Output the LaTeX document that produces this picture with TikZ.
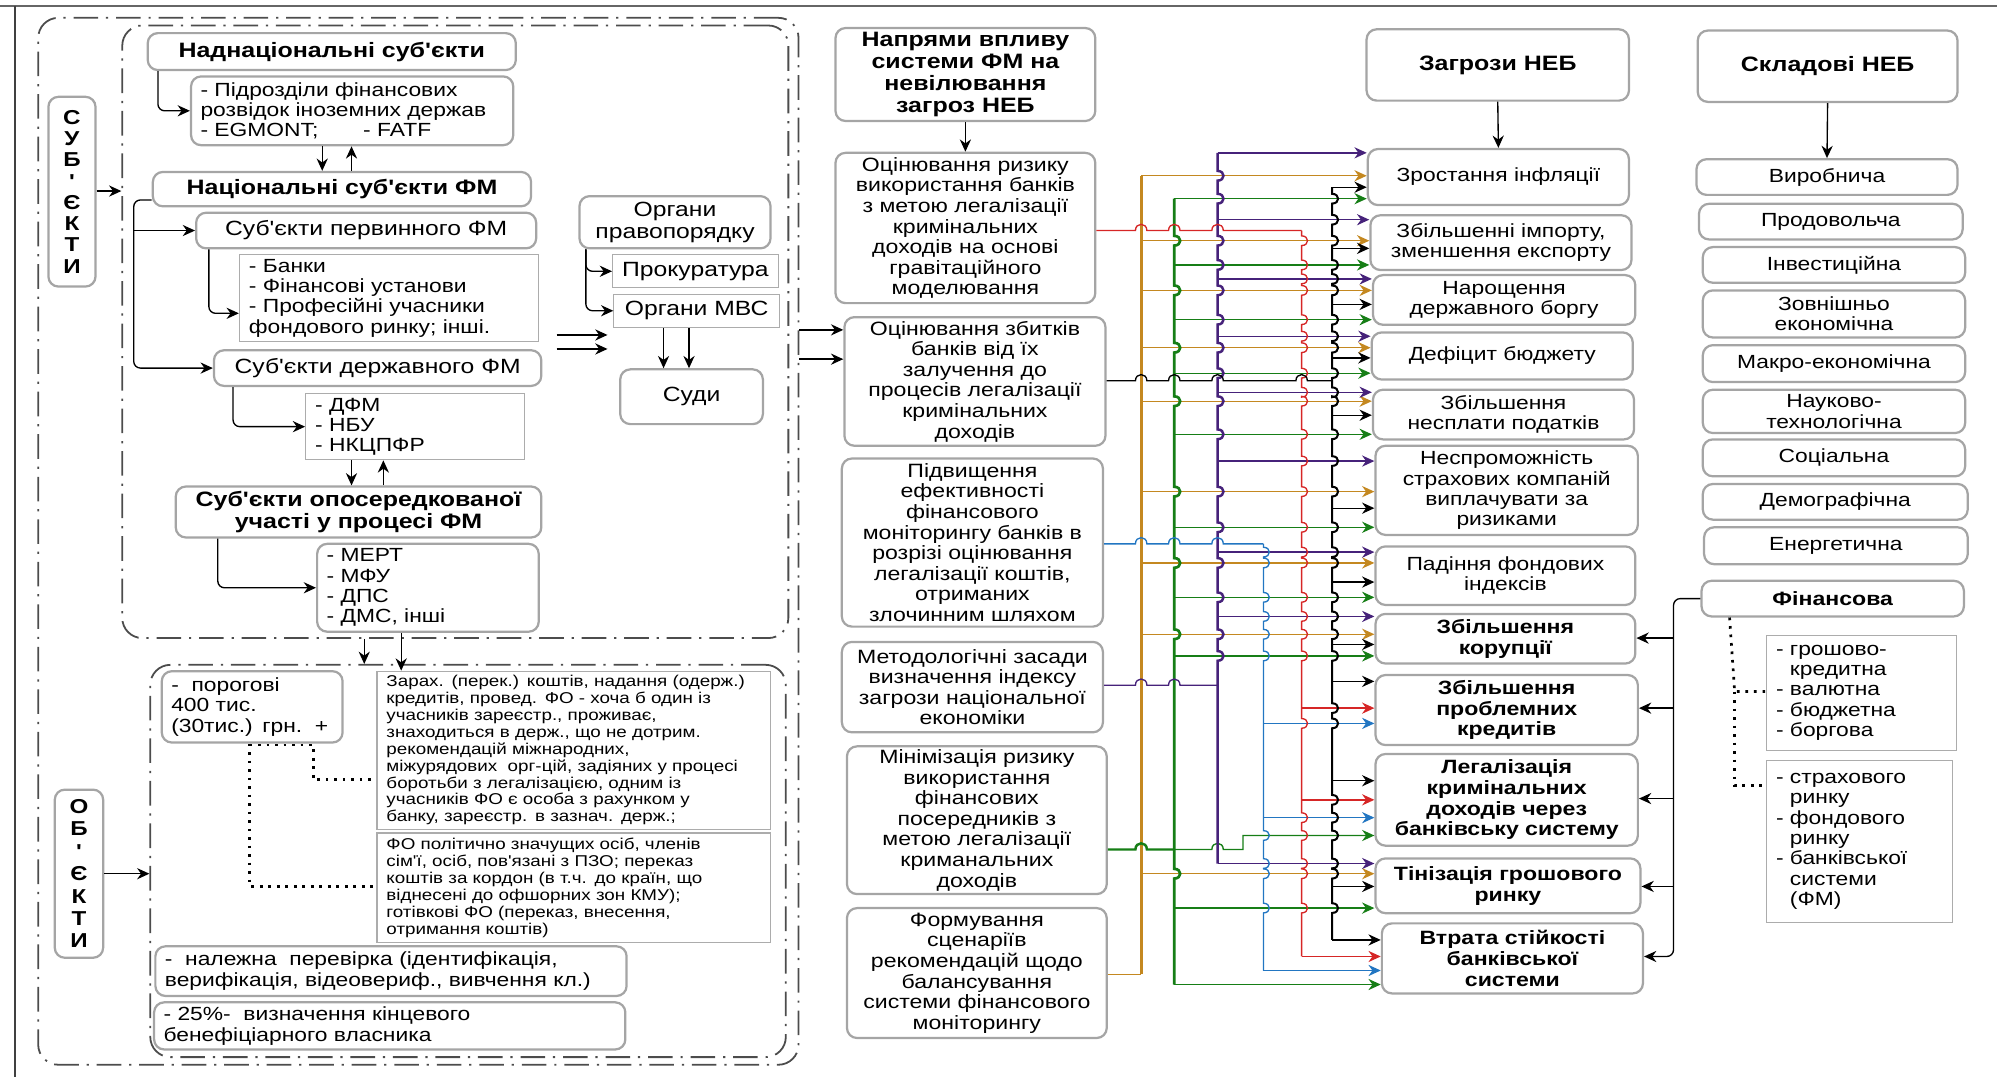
\documentclass[tikz,border=0pt]{standalone}
\usepackage{fontspec}
\newfontfamily\uf{Liberation Sans}[FakeStretch=1.2]
\usetikzlibrary{arrows.meta}

\definecolor{cGold}{RGB}{196,136,32}
\definecolor{cGrn}{RGB}{22,126,22}
\definecolor{cPur}{RGB}{70,34,122}
\definecolor{cBlu}{RGB}{34,118,194}
\definecolor{cRed}{RGB}{214,38,38}
\definecolor{bord}{RGB}{165,165,165}

\newcommand\szA{\fontsize{8.5}{9.1}\selectfont}
\newcommand\szL{\fontsize{9.2}{10}\selectfont}
\newcommand\szH{\fontsize{9.3}{9.8}\selectfont}
\newcommand\szM{\fontsize{8.6}{9.2}\selectfont}
\newcommand\szT{\fontsize{8.6}{9.2}\selectfont}
\newcommand\szS{\fontsize{7}{7.55}\selectfont}

% box given by its corners (x1,y1)-(x2,y2), centred text
\newcommand\nbx[7]{\node[#6, minimum width={(#4-#2)*0.02cm}, minimum height={(#5-#3)*0.02cm}] (#1) at ({(#2+#4)/2},{(#3+#5)/2}) {#7};}
% box given by its corners, left aligned text
\newcommand\nlbx[7]{%
  \pgfmathsetmacro\tw{(#4-#2)*0.02*28.45274-8.5}%
  \node[#6, align=left, inner xsep=4pt, text width=\tw pt, minimum width={(#4-#2)*0.02cm}, minimum height={(#5-#3)*0.02cm}] (#1) at ({(#2+#4)/2},{(#3+#5)/2}) {#7};}
% vertical bus with line jumps at the listed heights
\newcommand\vbus[5]{\draw[#1] (#2,#3) \foreach \h in {#5}{ -- (#2,\h-3.8) .. controls +(6.2,0) and +(6.2,0) .. (#2,\h+3.8)} -- (#2,#4);}

\begin{document}
\begin{tikzpicture}[x=0.02cm, y=-0.02cm,
  rb/.style={draw=bord, line width=1pt, rounded corners=4.5pt, fill=white, align=center, inner sep=1pt, font=\uf\szA},
  sq/.style={draw=gray!65, line width=0.5pt, fill=white, align=center, inner sep=1pt, font=\uf\szA},
  hb/.style={font=\uf\bfseries\szH},
  fl/.style={font=\uf\szL},
  fm/.style={font=\uf\szM},
  fs/.style={font=\uf\szS},
  tb/.style={font=\uf\bfseries\szT},
  fr/.style={draw=black!70, line width=0.8pt, rounded corners=9pt, dash pattern=on 11pt off 3.5pt on 1pt off 3.5pt},
  arr/.style={-{Stealth[length=5.5pt,width=5pt]}, line width=0.6pt},
  ln/.style={line width=0.6pt},
  dots/.style={line width=1.2pt, dash pattern=on 1.2pt off 2.6pt},
]
\useasboundingbox (0,0) rectangle (1568,846);

% page rules
\draw[line width=0.9pt, black!60] (0,4.5) -- (1568,4.5);
\draw[line width=1pt, black!75] (11.5,4.5) -- (11.5,846);

% dash-dot frames
\nbx{ofr}{30}{14}{627}{836}{fr}{}
\nbx{ufr}{96}{20}{619}{501}{fr}{}
\nbx{lfr}{118}{522}{617}{830}{fr}{}

% vertical labels
\nbx{subj}{38}{76}{75}{225}{rb, font=\uf\bfseries\fontsize{9}{9.5}\selectfont}{С\\У\\Б\\'\\Є\\К\\Т\\И}
\nbx{obj}{43}{620}{81}{752}{rb, font=\uf\bfseries\fontsize{9}{10}\selectfont}{О\\Б\\'\\Є\\К\\Т\\И}

% subjects
\nbx{nad}{116}{26}{405}{55}{rb,hb}{Наднаціональні суб'єкти}
\nlbx{pidr}{150}{60}{403}{114}{rb}{- Підрозділи фінансових\\розвідок іноземних держав\\- EGMONT;\hspace{20pt}- FATF}
\nbx{nat}{120}{135}{417}{162}{rb,hb}{Національні суб'єкти ФМ}
\nbx{perv}{154}{167}{421}{195}{rb,fl}{Суб'єкти первинного ФМ}
\nlbx{banks}{188}{200}{423}{268}{sq}{- Банки\\- Фінансові установи\\- Професійні учасники\\фондового ринку; інші.}
\nbx{derzh}{168}{275}{425}{303}{rb,fl}{Суб'єкти державного ФМ}
\nlbx{dfm}{240}{309}{412}{361}{sq}{- ДФМ\\- НБУ\\- НКЦПФР}
\nbx{opos}{138}{382}{425}{422}{rb,hb}{Суб'єкти опосередкованої\\участі у процесі ФМ}
\nlbx{mert}{249}{427}{423}{496}{rb}{- МЕРТ\\- МФУ\\- ДПС\\- ДМС, інші}
\nbx{organy}{455}{154}{605}{195}{rb,fl}{Органи\\правопорядку}
\nbx{prok}{481}{200}{611}{226}{sq,fl}{Прокуратура}
\nbx{mvs}{482}{231}{612}{257}{sq,fl}{Органи МВС}
\nbx{sudy}{487}{290}{599}{333}{rb,fl}{Суди}

% objects
\nlbx{porog}{127}{527}{269}{583}{rb}{-\ \ порогові\\400 тис.\\(30тис.) грн.\ \ +}
\nlbx{zarah}{296}{527}{605}{651}{sq,fs}{Зарах. (перек.) коштів, надання (одерж.)\\кредитів, провед. ФО - хоча б один із\\учасників зареєстр., проживає,\\знаходиться в держ., що не дотрим.\\рекомендацій міжнародних,\\міжурядових\ \ орг-цій, задіяних у процесі\\боротьби з легалізацією, одним із\\учасників ФО є особа з рахунком у\\банку, зареєстр. в зазнач. держ.;}
\nlbx{fo}{296}{654}{605}{740}{sq,fs}{ФО політично значущих осіб, членів\\сім'ї, осіб, пов'язані з ПЗО; переказ\\коштів за кордон (в т.ч. до країн, що\\віднесені до офшорних зон КМУ);\\готівкові ФО (переказ, внесення,\\отримання коштів)}
\nlbx{nal}{122}{743}{492}{782}{rb}{-\ \ належна\ \ перевірка (ідентифікація,\\верифікація, відеовериф., вивчення кл.)}
\nlbx{pct}{121}{787}{491}{824}{rb}{- 25\%-\ \ визначення кінцевого\\бенефіціарного власника}

% directions of influence
\nbx{napr}{656}{22}{860}{95}{rb,hb}{Напрями впливу\\системи ФМ на\\невілювання\\загроз НЕБ}
\nbx{m1}{656}{120}{860}{238}{rb,fm}{Оцінювання ризику\\використання банків\\з метою легалізації\\кримінальних\\доходів на основі\\гравітаційного\\моделювання}
\nbx{m2}{663}{249}{868}{350}{rb,fm}{Оцінювання збитків\\банків від їх\\залучення до\\процесів легалізації\\кримінальних\\доходів}
\nbx{m3}{661}{360}{866}{492}{rb,fm}{Підвищення\\ефективності\\фінансового\\моніторингу банків в\\розрізі оцінювання\\легалізації коштів,\\отриманих\\злочинним шляхом}
\nbx{m4}{661}{504}{866}{575}{rb,fm}{Методологічні засади\\визначення індексу\\загрози національної\\економіки}
\nbx{m5}{665}{586}{869}{702}{rb,fm}{Мінімізація ризику\\використання\\фінансових\\посередників з\\метою легалізації\\криманальних\\доходів}
\nbx{m6}{665}{713}{869}{815}{rb,fm}{Формування\\сценаріїв\\рекомендацій щодо\\балансування\\системи фінансового\\моніторингу}

% threats
\nbx{zag}{1073}{23}{1279}{79}{rb,hb}{Загрози НЕБ}
\nbx{t1}{1074}{117}{1279}{161}{rb}{Зростання інфляції}
\nbx{t2}{1076}{169}{1281}{212}{rb}{Збільшенні імпорту,\\зменшення експорту}
\nbx{t3}{1078}{216}{1284}{255}{rb}{Нарощення\\державного боргу}
\nbx{t4}{1077}{261}{1282}{298}{rb}{Дефіцит бюджету}
\nbx{t5}{1078}{306}{1283}{345}{rb}{Збільшення\\несплати податків}
\nbx{t6}{1080}{350}{1286}{420}{rb}{Неспроможність\\страхових компаній\\виплачувати за\\ризиками}
\nbx{t7}{1080}{429}{1284}{475}{rb}{Падіння фондових\\індексів}
\nbx{t8}{1080}{482}{1284}{521}{rb,tb}{Збільшення\\корупції}
\nbx{t9}{1080}{530}{1286}{585}{rb,tb}{Збільшення\\проблемних\\кредитів}
\nbx{t10}{1080}{592}{1286}{664}{rb,tb}{Легалізація\\кримінальних\\доходів через\\банківську систему}
\nbx{t11}{1080}{674}{1288}{717}{rb,tb}{Тінізація грошового\\ринку}
\nbx{t12}{1085}{725}{1290}{780}{rb,tb}{Втрата стійкості\\банківської\\системи}

% components
\nbx{skl}{1333}{24}{1537}{80}{rb,hb}{Складові НЕБ}
\nbx{c1}{1332}{125}{1537}{153}{rb}{Виробнича}
\nbx{c2}{1334}{160}{1541}{188}{rb}{Продовольча}
\nbx{c3}{1337}{194}{1543}{222}{rb}{Інвестиційна}
\nbx{c4}{1337}{228}{1543}{265}{rb}{Зовнішньо\\економічна}
\nbx{c5}{1337}{271}{1543}{300}{rb}{Макро-економічна}
\nbx{c6}{1337}{306}{1543}{340}{rb}{Науково-\\технологічна}
\nbx{c7}{1337}{345}{1543}{374}{rb}{Соціальна}
\nbx{c8}{1337}{380}{1545}{408}{rb}{Демографічна}
\nbx{c9}{1338}{414}{1545}{443}{rb}{Енергетична}
\nbx{fin}{1336}{456}{1542}{484}{rb,tb}{Фінансова}
\nlbx{l1}{1387}{499}{1536}{589}{sq}{- грошово-\\\phantom{- }кредитна\\- валютна\\- бюджетна\\- боргова}
\nlbx{l2}{1387}{597}{1533}{724}{sq}{- страхового\\\phantom{- }ринку\\- фондового\\\phantom{- }ринку\\- банківської\\\phantom{- }системи\\\phantom{- }(ФМ)}

% ---- connectors, left part
\draw[arr] (subj.east |- 0,150) -- (ufr.west |- 0,150);
\draw[arr] (obj.east |- 0,686) -- (lfr.west |- 0,686);
\draw[arr, rounded corners=3pt] (nad.south -| 124,0) |- (pidr.west);
\draw[arr] (pidr.south -| 253,0) -- (nat.north -| 253,0);
\draw[arr] (nat.north -| 276,0) -- (pidr.south -| 276,0);
\draw[arr, rounded corners=3pt] (nat.west |- 0,157) -- (105,157) -- (105,289) -- (derzh.west);
\draw[arr] (105,181) -- (perv.west);
\draw[arr, rounded corners=3pt] (perv.south -| 164,0) |- (banks.west |- 0,246);
\draw[arr, rounded corners=3pt] (derzh.south -| 183,0) |- (dfm.west);
\draw[arr] (dfm.south -| 276,0) -- (opos.north -| 276,0);
\draw[arr] (opos.north -| 301,0) -- (dfm.south -| 301,0);
\draw[arr, rounded corners=3pt] (opos.south -| 171,0) |- (mert.west);
\draw[arr, rounded corners=3pt] (organy.south -| 460,0) |- (prok.west);
\draw[arr, rounded corners=3pt] (organy.south -| 460,0) |- (mvs.west);
\draw[arr] (mvs.south -| 521,0) -- (sudy.north -| 521,0);
\draw[arr] (mvs.south -| 541,0) -- (sudy.north -| 541,0);
\coordinate (fa1) at (437,263); \coordinate (fb1) at (477,263);
\coordinate (fa2) at (437,274); \coordinate (fb2) at (477,274);
\draw[arr] (fa1) -- (fb1);
\draw[arr] (fa2) -- (fb2);
\draw[arr] (ofr.east |- 0,259) -- (m2.west |- 0,259);
\draw[arr] (ofr.east |- 0,282) -- (m2.west |- 0,282);
\draw[arr] (mert.south -| 315,0) -- (zarah.north -| 315,0);
\draw[arr] (ufr.south -| 286,0) -- (lfr.north -| 286,0);
\draw[dots] (porog.south -| 196,0) -- (196,696) -- (fo.west |- 0,696);
\draw[dots] (196,585) -- (246,585) -- (246,612) -- (zarah.west |- 0,612);

% ---- connectors, right part
\draw[arr] (napr.south) -- (m1.north);
\draw[arr] (zag.south) -- (t1.north);
\draw[arr] (skl.south) -- (c1.north);
\draw[arr, rounded corners=3pt] (fin.west) -| (1314,751) -- (t12.east |- 0,751);
\foreach \y/\t in {501/t8,556/t9,627/t10,696/t11}
  \draw[arr] (1314,\y) -- (\t.east |- 0,\y);
\draw[dots] (fin.south -| 1358,0) -- (1362,543) -- (l1.west |- 0,543);
\draw[dots] (1362,543) -- (1362,617) -- (l2.west |- 0,617);

% ---- influence buses
% gold: scenarios of recommendations
\draw[cGold, ln] (m6.east |- 0,765) -- (896,765);
\draw[cGold, line width=1.3pt] (896,138) -- (896,765);
\foreach \y/\t in {138/t1,189/t2,228/t3,273/t4,315/t5,386/t6,442/t7,498/t8,686/t11}
  \draw[cGold, arr] (896,\y) -- (\t.west |- 0,\y);

% green: minimisation of risk
\draw[cGrn, line width=1.1pt] (m5.east |- 0,667) -- (891.5,667) .. controls +(0,-6.5) and +(0,-6.5) .. (900.5,667) -- (922,667);
\vbus{cGrn, line width=1.2pt}{922}{156}{773}{189,228,273,315,386,442,498,686}
\foreach \y/\t in {156/t1,208/t2,251/t3,293/t4,341/t5,414/t6,469/t7,515/t8,713/t11,773/t12}
  \draw[cGrn, arr] (922,\y) -- (\t.west |- 0,\y);
\draw[cGrn, arr] (922,667) -- (951.5,667) .. controls +(0,-6.5) and +(0,-6.5) .. (960.5,667) -- (976,667) -- (976,656) -- (t10.west |- 0,656);

% purple: methodology of the threat index
\draw[cPur, ln] (m4.east |- 0,538) \foreach \c in {896,922}{ -- (\c-4.5,538) .. controls +(0,-6.5) and +(0,-6.5) .. (\c+4.5,538)} -- (956,538);
\vbus{cPur, line width=1.1pt}{956}{120}{678}{138,156,189,208,228,251,273,293,315,341,386,414,442,469,498,515}
\foreach \y/\t in {120/t1,172.5/t2,219/t3,264/t4,308/t5,362/t6,433.5/t7,484/t8,678/t11}
  \draw[cPur, arr] (956,\y) -- (\t.west |- 0,\y);

% blue: efficiency of monitoring
\draw[cBlu, ln] (m3.east |- 0,427) \foreach \c in {896,922,956}{ -- (\c-4.5,427) .. controls +(0,-6.5) and +(0,-6.5) .. (\c+4.5,427)} -- (992,427);
\vbus{cBlu, ln}{992}{427}{762}{433.5,442,469,484,498,515,656,678,686,713}
\foreach \y/\t in {568/t9,642/t10,762/t12}
  \draw[cBlu, arr] (992,\y) -- (\t.west |- 0,\y);

% red: risk assessment by gravity modelling
\draw[cRed, ln] (m1.east |- 0,181) \foreach \c in {896,922,956}{ -- (\c-4.5,181) .. controls +(0,-6.5) and +(0,-6.5) .. (\c+4.5,181)} -- (1022,181);
\vbus{cRed, ln}{1022}{181}{751}{189,208,219,228,251,264,273,293,308,315,341,362,386,414,433.5,442,469,484,498,515,568,642,656,678,686,713}
\foreach \y/\t in {556/t9,628/t10,751/t12}
  \draw[cRed, arr] (1022,\y) -- (\t.west |- 0,\y);

% black: losses of banks
\draw[black, ln] (m2.east |- 0,299) \foreach \c in {896,922,956,1022}{ -- (\c-4.5,299) .. controls +(0,-6.5) and +(0,-6.5) .. (\c+4.5,299)} -- (1046,299);
\vbus{black, line width=0.9pt}{1046}{147}{738}{156,172.5,189,208,219,228,251,264,273,293,308,315,341,362,386,414,433.5,442,469,484,498,515,556,568,628,642,656,678,686,713}
\foreach \y/\t in {147/t1,195/t2,239/t3,281/t4,326/t5,399/t6,457/t7,506/t8,535/t9,613/t10,696/t11,738/t12}
  \draw[black, arr] (1046,\y) -- (\t.west |- 0,\y);

\end{tikzpicture}
\end{document}
